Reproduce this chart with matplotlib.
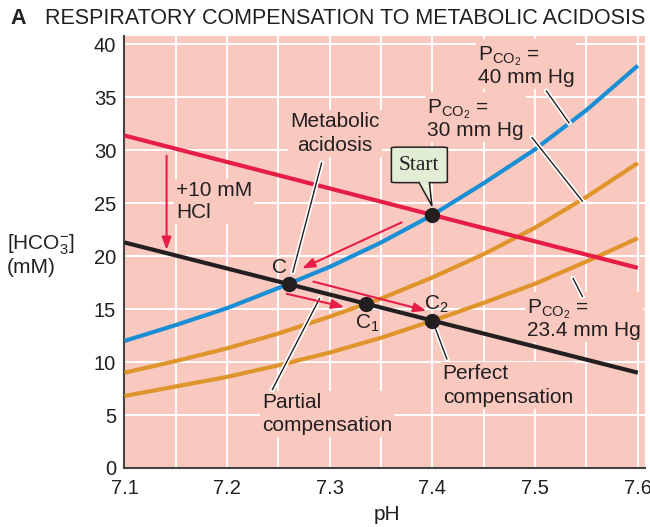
import matplotlib
matplotlib.use("Agg")
import matplotlib.pyplot as plt
import matplotlib.patheffects as pe
from matplotlib.patches import FancyBboxPatch, Polygon

plt.rcParams['font.family'] = ['Liberation Sans', 'DejaVu Sans']
plt.rcParams['mathtext.fontset'] = 'custom'
plt.rcParams['mathtext.rm'] = 'Liberation Sans'
plt.rcParams['mathtext.it'] = 'Liberation Sans:italic'
plt.rcParams['mathtext.bf'] = 'Liberation Sans:bold'

# ---- data ----------------------------------------------------------------
ph_values = [7.10, 7.15, 7.20, 7.25, 7.30, 7.35, 7.40, 7.45, 7.50, 7.55, 7.60]
hco3_pco2_40 = [12.0, 13.5, 15.1, 17.0, 19.0, 21.3, 23.9, 26.9, 30.1, 33.8, 38.0]
hco3_pco2_30 = [9.0, 10.1, 11.3, 12.7, 14.3, 16.0, 18.0, 20.2, 22.7, 25.6, 28.8]
hco3_pco2_23 = [6.8, 7.7, 8.6, 9.7, 10.9, 12.3, 13.9, 15.6, 17.4, 19.5, 21.7]

buffer_ph = [7.10, 7.60]
buffer_normal = [31.4, 18.9]      # buffer line before acid load
buffer_acid = [21.3, 9.0]         # buffer line after +10 mM HCl

point_names = ['Start', 'C', 'C1', 'C2']
point_ph = [7.40, 7.26, 7.335, 7.40]
point_hco3 = [23.9, 17.4, 15.5, 13.9]

x_ticks = [7.1, 7.2, 7.3, 7.4, 7.5, 7.6]
x_tick_labels = ['7.1', '7.2', '7.3', '7.4', '7.5', '7.6']
y_ticks = [0, 5, 10, 15, 20, 25, 30, 35, 40]

# ---- style ---------------------------------------------------------------
BG = '#F9C9BF'
RED = '#E61E45'
BLUE = '#1B8FD6'
ORANGE = '#DF942C'
INK = '#231F20'
START_FILL = '#E2EDD6'

fig = plt.figure(figsize=(6.5, 5.27), dpi=100)
ax = fig.add_axes([0.1915, 0.112, 0.8008, 0.8197])
ax.set_facecolor(BG)
ax.set_xlim(7.1, 7.607)
ax.set_ylim(0, 40.8)

# white grid every 0.05 pH and 5 mM
for gx in [7.10 + 0.05 * i for i in range(1, 11)]:
    ax.axvline(gx, color='white', lw=1.4, zorder=0.5)
for gy in range(5, 41, 5):
    ax.axhline(gy, color='white', lw=1.4, zorder=0.5)

for s in ['top', 'right']:
    ax.spines[s].set_visible(False)
for s in ['left', 'bottom']:
    ax.spines[s].set_color('#444444')
    ax.spines[s].set_linewidth(1.5)

ax.set_xticks(x_ticks)
ax.set_xticklabels(x_tick_labels)
ax.set_yticks(y_ticks)
ax.tick_params(axis='both', length=0, labelsize=14.5, labelcolor=INK)
ax.tick_params(axis='x', pad=8)
ax.tick_params(axis='y', pad=6)

# isobars and buffer lines
ax.plot(ph_values, hco3_pco2_23, color=ORANGE, lw=3, zorder=3, solid_capstyle='butt')
ax.plot(ph_values, hco3_pco2_30, color=ORANGE, lw=3, zorder=3, solid_capstyle='butt')
ax.plot(buffer_ph, buffer_normal, color=RED, lw=3, zorder=3, solid_capstyle='butt')
ax.plot(ph_values, hco3_pco2_40, color=BLUE, lw=3, zorder=3.5, solid_capstyle='butt')
ax.plot(buffer_ph, buffer_acid, color=INK, lw=3, zorder=4, solid_capstyle='butt')

ax.plot(point_ph, point_hco3, 'o', color=INK, ms=10, zorder=6, linestyle='none')

# leader lines: thin black with a white halo
halo = [pe.Stroke(linewidth=3.4, foreground='white'), pe.Normal()]
leaders = [
    ((7.292, 28.8), (7.264, 18.5)),   # metabolic acidosis
    ((7.290, 16.0), (7.244, 7.4)),    # partial compensation
    ((7.402, 13.4), (7.414, 10.3)),   # perfect compensation
    ((7.537, 17.9), (7.546, 16.2)),   # PCO2 23.4
    ((7.511, 35.6), (7.533, 32.6)),   # PCO2 40
    ((7.497, 31.2), (7.546, 25.2)),   # PCO2 30
]
for (x0, y0), (x1, y1) in leaders:
    ax.plot([x0, x1], [y0, y1], color=INK, lw=1.0, zorder=5, path_effects=halo)

# red arrows
arrow_kw = dict(arrowstyle='-|>,head_length=0.75,head_width=0.28', color=RED,
                lw=1.5, shrinkA=0, shrinkB=0)
red_arrows = [
    ((7.141, 29.5), (7.141, 20.6)),   # +10 mM HCl
    ((7.370, 23.2), (7.273, 18.85)),  # toward C
    ((7.258, 16.45), (7.314, 15.2)),  # C -> C1
    ((7.284, 17.6), (7.394, 14.85)),  # C -> C2
]
for tail, tip in red_arrows:
    ax.annotate('', xy=tip, xytext=tail, arrowprops=arrow_kw, zorder=5)

# text labels (background boxes break the grid behind them)
tb = dict(facecolor=BG, edgecolor='none', pad=1.5)
fs = 15
ax.text(7.305, 31.6, 'Metabolic\nacidosis', ha='center', va='center', fontsize=fs,
        color=INK, bbox=tb, zorder=2, linespacing=1.3)
ax.text(7.150, 25.2, '+10 mM\nHCl', ha='left', va='center', fontsize=fs,
        color=INK, bbox=tb, zorder=2, linespacing=1.2)
ax.text(7.444, 38.0, 'P$_{\\mathrm{CO}_2}$ =\n40 mm Hg', ha='left', va='center',
        fontsize=fs, color=INK, bbox=tb, zorder=2, linespacing=0.95)
ax.text(7.395, 33.0, 'P$_{\\mathrm{CO}_2}$ =\n30 mm Hg', ha='left', va='center',
        fontsize=fs, color=INK, bbox=tb, zorder=2, linespacing=0.95)
ax.text(7.492, 14.1, 'P$_{\\mathrm{CO}_2}$ =\n23.4 mm Hg', ha='left', va='center',
        fontsize=fs, color=INK, bbox=tb, zorder=2, linespacing=0.95)
ax.text(7.410, 7.8, 'Perfect\ncompensation', ha='left', va='center', fontsize=fs,
        color=INK, bbox=tb, zorder=2, linespacing=1.3)
ax.text(7.234, 5.1, 'Partial\ncompensation', ha='left', va='center', fontsize=fs,
        color=INK, bbox=tb, zorder=2, linespacing=1.3)

ax.text(7.251, 18.9, 'C', ha='center', va='center', fontsize=fs, color=INK, zorder=7)
ax.text(7.337, 13.7, 'C$_1$', ha='center', va='center', fontsize=fs, color=INK, zorder=7)
ax.text(7.404, 15.5, 'C$_2$', ha='center', va='center', fontsize=fs, color=INK, zorder=7)

# "Start" callout bubble
box = FancyBboxPatch((7.360, 26.95), 0.0545, 3.35,
                     boxstyle='round,pad=0,rounding_size=0.006',
                     mutation_aspect=10.3,
                     facecolor=START_FILL, edgecolor=INK, lw=1.1, zorder=7)
ax.add_patch(box)
tail = Polygon([(7.387, 27.05), (7.3995, 24.75), (7.397, 27.05)], closed=True,
               facecolor=START_FILL, edgecolor='none', zorder=7.2)
ax.add_patch(tail)
ax.plot([7.387, 7.3995, 7.397], [26.95, 24.75, 26.95], color=INK, lw=1.1, zorder=7.3)
ax.text(7.3872, 28.6, 'Start', ha='center', va='center', fontsize=15.5,
        family=['Liberation Serif', 'DejaVu Serif'], color=INK, zorder=8)

# figure-level labels
fig.text(10 / 650, 1 - 19 / 527, 'A', fontsize=15.5, fontweight='bold', color=INK,
         ha='left', va='center')
fig.text(45 / 650, 1 - 19 / 527, 'RESPIRATORY COMPENSATION TO METABOLIC ACIDOSIS',
         fontsize=15.5, color=INK, ha='left', va='center')
fig.text(7 / 650, 1 - 255 / 527, '[HCO$_3^{-}$]\n(mM)', fontsize=15, color=INK,
         ha='left', va='center', linespacing=1.05)
fig.text(387 / 650, 1 - 515 / 527, 'pH', fontsize=15, color=INK, ha='center',
         va='center')

fig.savefig('out.png', dpi=100, facecolor='white')
